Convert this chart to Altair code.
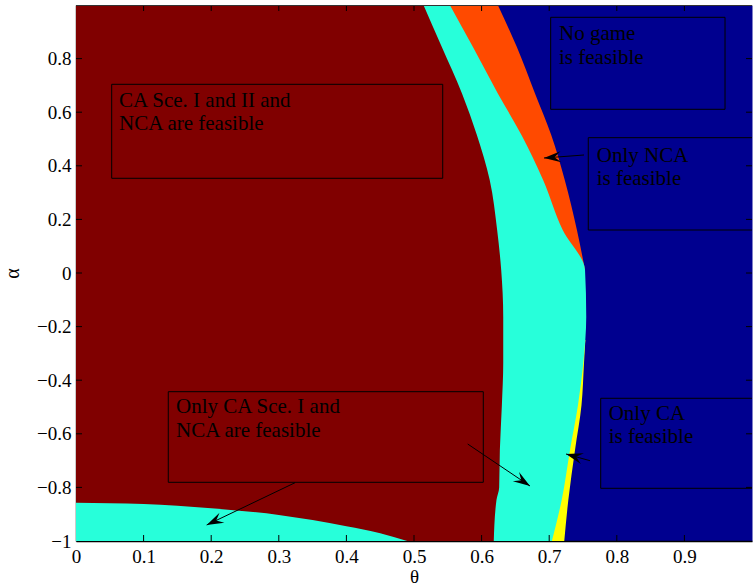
import altair as alt
import pandas as pd
import numpy as np

# ---------------- data ----------------
# boundary of the dark-red region (alpha -> theta)
maroon_alpha = [1.0, 0.844, 0.670, 0.515, 0.347, 0.160, 0.011, -0.163, -0.336, -0.493, -0.660, -0.80, -0.847, -1.0]
maroon_theta = [0.514, 0.541, 0.571, 0.593, 0.612, 0.623, 0.629, 0.632, 0.632, 0.630, 0.627, 0.626, 0.622, 0.618]
# right boundary of the cyan band
cyan_alpha = [1.0, 0.844, 0.670, 0.515, 0.347, 0.160, 0.011, -0.163, -0.336, -0.493, -0.660, -0.847, -1.0]
cyan_theta = [0.553, 0.587, 0.624, 0.659, 0.691, 0.720, 0.753, 0.7548, 0.7504, 0.7426, 0.7308, 0.7185, 0.704]
# right boundary of the orange band ("Only NCA")
orange_alpha = [1.0, 0.844, 0.670, 0.515, 0.347, 0.160, 0.011]
orange_theta = [0.624, 0.652, 0.679, 0.703, 0.723, 0.741, 0.753]
# right boundary of the yellow band ("Only CA")
yellow_alpha = [-0.25, -0.336, -0.493, -0.660, -0.847, -1.0]
yellow_theta = [0.7535, 0.7515, 0.7478, 0.7382, 0.7283, 0.7223]
# lower-left cyan patch: upper boundary (theta -> alpha)
patch_theta = [0.0, 0.1, 0.2, 0.3, 0.4, 0.45, 0.49]
patch_alpha = [-0.857, -0.862, -0.878, -0.903, -0.945, -0.971, -1.0]

# annotation boxes (theta1, theta2, alpha1, alpha2)
box_t1 = [0.0528, 0.7022, 0.7578, 0.7762, 0.1365]
box_t2 = [0.5425, 0.9601, 1.03, 1.03, 0.6025]
box_a1 = [0.7041, 0.9541, 0.5049, -0.4675, -0.4429]
box_a2 = [0.3534, 0.6108, 0.1604, -0.8034, -0.7810]

# annotation texts (left / first baseline)
labels = ["CA Sce. I and II and\nNCA are feasible",
          "No game\nis feasible",
          "Only NCA\n is feasible",
          "Only CA\nis feasible",
          "Only CA Sce. I and\nNCA are feasible"]
label_t = [0.0636, 0.7145, 0.7703, 0.7880, 0.1479]
label_a = [0.6205, 0.8694, 0.4153, -0.5485, -0.5235]

# arrows (start -> tip)
arr_t0 = [0.7515, 0.7604, 0.3240, 0.5794]
arr_a0 = [0.4403, -0.7004, -0.7825, -0.6381]
arr_t1 = [0.6923, 0.7249, 0.1933, 0.6716]
arr_a1 = [0.4291, -0.6754, -0.9403, -0.7948]

x_ticks = [0, 0.1, 0.2, 0.3, 0.4, 0.5, 0.6, 0.7, 0.8, 0.9]
y_ticks = [-1, -0.8, -0.6, -0.4, -0.2, 0, 0.2, 0.4, 0.6, 0.8]

# ---------------- colours / layout ----------------
C_BLUE = "#00008F"
C_MAROON = "#800000"
C_CYAN = "#27FFDA"
C_ORANGE = "#FF4A00"
C_YELLOW = "#FFFF00"
FONT = "Liberation Serif"
W, H = 676, 536

xs = alt.Scale(domain=[0, 1], nice=False, zero=False)
ys = alt.Scale(domain=[-1, 1], nice=False, zero=False)

x_axis = alt.Axis(values=x_ticks, format="~g", ticks=False, grid=False, domainColor="black",
                  domainWidth=1.6, labelFontSize=19, labelPadding=6, labelFlush=False,
                  labelColor="black", title="θ", titleFontSize=19, titleFontWeight="normal",
                  titleColor="black", titlePadding=1, labelFont=FONT, titleFont=FONT)
y_axis = alt.Axis(values=y_ticks, format="~g", ticks=False, grid=False, domainColor="black",
                  domainWidth=1.4, labelFontSize=19, labelPadding=5, labelFlush=False,
                  labelColor="black", title="α", titleFontSize=20, titleFontWeight="normal",
                  titleColor="black", titlePadding=14, labelFont=FONT, titleFont=FONT)

X = lambda f="theta": alt.X(f"{f}:Q", scale=xs, axis=x_axis)
Y = lambda f="alpha": alt.Y(f"{f}:Q", scale=ys, axis=y_axis)


def hband(alphas, thetas, color):
    df = pd.DataFrame({"alpha": alphas, "theta": thetas, "zero": 0.0})
    return alt.Chart(df).mark_area(orient="horizontal", color=color, interpolate="monotone").encode(
        y=Y(), x=X(), x2="zero:Q",
    )


orange = hband(orange_alpha, orange_theta, C_ORANGE)
yellow = hband(yellow_alpha, yellow_theta, C_YELLOW)
cyan = hband(cyan_alpha, cyan_theta, C_CYAN)
maroon = hband(maroon_alpha, maroon_theta, C_MAROON)

patch_df = pd.DataFrame({"theta": patch_theta, "alpha": patch_alpha, "base": -1.0})
patch = alt.Chart(patch_df).mark_area(color=C_CYAN, interpolate="monotone").encode(
    x=X(), y=Y(), y2="base:Q",
)

# inward ticks on all four sides
xt_df = pd.DataFrame({"theta": x_ticks[1:]})
yt_df = pd.DataFrame({"alpha": y_ticks[1:]})
tk = dict(color="black", strokeWidth=1)
t_bottom = alt.Chart(xt_df).mark_rule(**tk).encode(x=X(), y=alt.value(H), y2=alt.value(H - 6))
t_top = alt.Chart(xt_df).mark_rule(**tk).encode(x=X(), y=alt.value(0), y2=alt.value(6))
t_left = alt.Chart(yt_df).mark_rule(**tk).encode(y=Y(), x=alt.value(0), x2=alt.value(6))
t_right = alt.Chart(yt_df).mark_rule(**tk).encode(y=Y(), x=alt.value(W - 6), x2=alt.value(W))
top_line = alt.Chart(xt_df).mark_rule(color="#333333", strokeWidth=1).encode(
    x=alt.value(0), x2=alt.value(W), y=alt.value(0.5))

# annotation boxes
box_df = pd.DataFrame({"theta": box_t1, "theta2": box_t2, "alpha": box_a1, "alpha2": box_a2})
boxes = alt.Chart(box_df).mark_rect(fillOpacity=0, stroke="black", strokeWidth=1, clip=True).encode(
    x=X(), x2="theta2:Q", y=Y(), y2="alpha2:Q",
)

txt_df = pd.DataFrame({"theta": label_t, "alpha": label_a, "label": labels})
texts = alt.Chart(txt_df).mark_text(align="left", baseline="alphabetic", font=FONT, fontSize=21,
                                    lineBreak="\n", lineHeight=23.5, color="black").encode(
    x=X(), y=Y(), text="label:N",
)

# arrows
t0, a0, t1, a1 = map(np.array, (arr_t0, arr_a0, arr_t1, arr_a1))
dxp = (t1 - t0) * W
dyp = -(a1 - a0) * (H / 2)
ang = (np.degrees(np.arctan2(dxp, -dyp)) + 360) % 360
arr_df = pd.DataFrame({"theta": t0, "alpha": a0, "theta2": t1, "alpha2": a1})
head_df = pd.DataFrame({"theta": t1, "alpha": a1, "ang": ang})
shafts = alt.Chart(arr_df).mark_rule(color="black", strokeWidth=1).encode(
    x=X(), x2="theta2:Q", y=Y(), y2="alpha2:Q",
)
heads = alt.Chart(head_df).mark_point(shape="M0,0 L-0.33,1 L0,0.62 L0.33,1 Z", filled=True,
                                      color="black", opacity=1, size=1150).encode(
    x=X(), y=Y(), angle=alt.Angle("ang:Q", scale=None),
)

chart = alt.layer(
    orange, yellow, cyan, maroon, patch, boxes, texts, shafts, heads,
    t_bottom, t_top, t_left, t_right, top_line,
).properties(
    width=W, height=H,
    autosize=alt.AutoSizeParams(type="none"),
    padding={"left": 76, "top": 5, "right": 1, "bottom": 46},
    background="white",
).configure_view(fill=C_BLUE, stroke="transparent").configure_axis(
    labelFont=FONT, titleFont=FONT, labelFontSize=19,
    titleFontWeight="normal", labelColor="black", titleColor="black",
).configure_text(font=FONT)

chart.save("out.html", embed_options={"renderer": "svg", "actions": False})
